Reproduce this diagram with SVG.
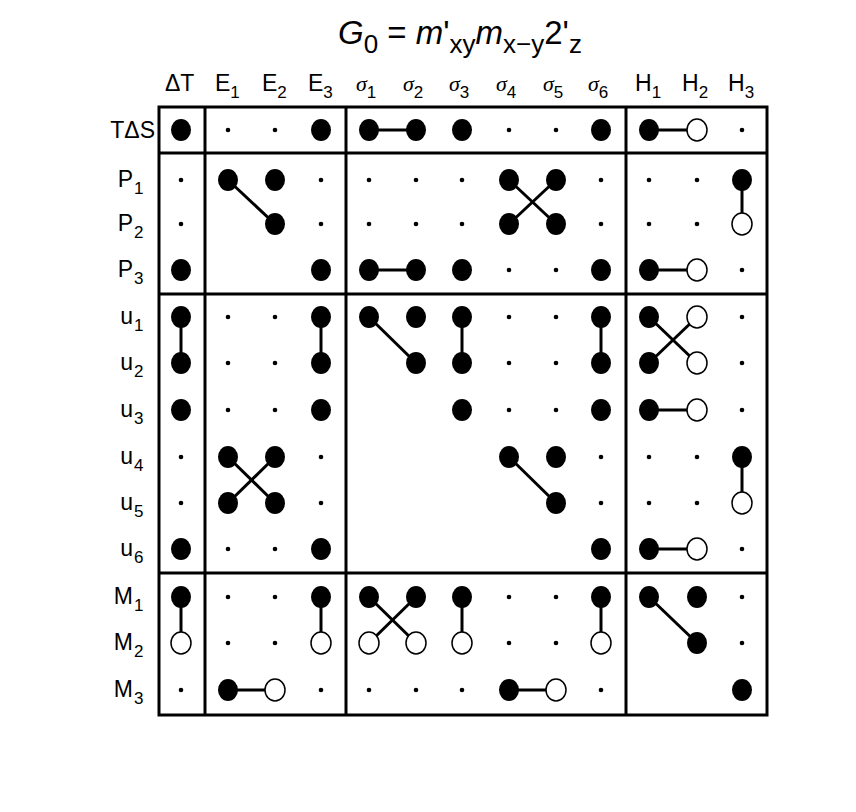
<svg xmlns="http://www.w3.org/2000/svg" width="856" height="812" viewBox="0 0 856 812">
<style>
text{font-family:"Liberation Sans",Arial,sans-serif;font-size:23px;fill:#000}
.s{font-size:17px}
.g{font-family:"Liberation Serif",serif;font-style:italic;font-size:22px}
.f{fill:#000}
.o{fill:#fff;stroke:#000;stroke-width:1.5}
.c line{stroke:#000;stroke-width:3}
.b{fill:none;stroke:#000;stroke-width:3}
</style>
<rect width="856" height="812" fill="#fff"/>
<g id="title"><text x="338" y="44" style="font-size:33px"><tspan font-style="italic">G</tspan><tspan dy="9" style="font-size:26px">0</tspan><tspan dy="-9"> = </tspan><tspan font-style="italic">m</tspan><tspan>'</tspan><tspan dy="9" style="font-size:26px">xy</tspan><tspan dy="-9" font-style="italic">m</tspan><tspan dy="9" style="font-size:26px">x−y</tspan><tspan dy="-9">2'</tspan><tspan dy="9" style="font-size:26px">z</tspan></text></g>
<g id="colheads">
<text x="165" y="91">ΔT</text>
<text x="215" y="91">E<tspan class="s" dy="7">1</tspan></text>
<text x="262" y="91">E<tspan class="s" dy="7">2</tspan></text>
<text x="308" y="91">E<tspan class="s" dy="7">3</tspan></text>
<text x="356" y="91" class="g">σ<tspan style="font-family:'Liberation Sans';font-style:normal;font-size:17px" dy="7">1</tspan></text>
<text x="403" y="91" class="g">σ<tspan style="font-family:'Liberation Sans';font-style:normal;font-size:17px" dy="7">2</tspan></text>
<text x="449" y="91" class="g">σ<tspan style="font-family:'Liberation Sans';font-style:normal;font-size:17px" dy="7">3</tspan></text>
<text x="496" y="91" class="g">σ<tspan style="font-family:'Liberation Sans';font-style:normal;font-size:17px" dy="7">4</tspan></text>
<text x="543" y="91" class="g">σ<tspan style="font-family:'Liberation Sans';font-style:normal;font-size:17px" dy="7">5</tspan></text>
<text x="588" y="91" class="g">σ<tspan style="font-family:'Liberation Sans';font-style:normal;font-size:17px" dy="7">6</tspan></text>
<text x="635" y="91">H<tspan class="s" dy="7">1</tspan></text>
<text x="682" y="91">H<tspan class="s" dy="7">2</tspan></text>
<text x="728" y="91">H<tspan class="s" dy="7">3</tspan></text>
</g>
<g id="rowheads" text-anchor="end">
<text x="155" y="138">TΔS</text>
<text x="133" y="187">P</text><text class="s" x="134" y="194" text-anchor="start">1</text>
<text x="133" y="231">P</text><text class="s" x="134" y="238" text-anchor="start">2</text>
<text x="133" y="277">P</text><text class="s" x="134" y="284" text-anchor="start">3</text>
<text x="133" y="324">u</text><text class="s" x="134" y="331" text-anchor="start">1</text>
<text x="133" y="370">u</text><text class="s" x="134" y="377" text-anchor="start">2</text>
<text x="133" y="417">u</text><text class="s" x="134" y="424" text-anchor="start">3</text>
<text x="133" y="464">u</text><text class="s" x="134" y="471" text-anchor="start">4</text>
<text x="133" y="510">u</text><text class="s" x="134" y="517" text-anchor="start">5</text>
<text x="133" y="556">u</text><text class="s" x="134" y="563" text-anchor="start">6</text>
<text x="133" y="604">M</text><text class="s" x="134" y="611" text-anchor="start">1</text>
<text x="133" y="650">M</text><text class="s" x="134" y="657" text-anchor="start">2</text>
<text x="133" y="697">M</text><text class="s" x="134" y="704" text-anchor="start">3</text>
</g>
<g id="frame" class="b">
<rect x="159" y="107" width="608" height="608"/>
<line x1="205" y1="107" x2="205" y2="715"/>
<line x1="346" y1="107" x2="346" y2="715"/>
<line x1="626" y1="107" x2="626" y2="715"/>
<line x1="159" y1="153" x2="767" y2="153"/>
<line x1="159" y1="294" x2="767" y2="294"/>
<line x1="159" y1="573" x2="767" y2="573"/>
</g>
<g id="connectors" class="c">
<line x1="369" y1="130" x2="416" y2="130"/><line x1="649" y1="130" x2="697" y2="130"/>
<line x1="228" y1="180" x2="275" y2="224"/>
<line x1="509" y1="180" x2="556" y2="224"/><line x1="556" y1="180" x2="509" y2="224"/>
<line x1="742" y1="180" x2="742" y2="224"/>
<line x1="369" y1="270" x2="416" y2="270"/><line x1="649" y1="270" x2="697" y2="270"/>
<line x1="181" y1="317" x2="181" y2="363"/><line x1="321" y1="317" x2="321" y2="363"/>
<line x1="369" y1="317" x2="416" y2="363"/><line x1="462" y1="317" x2="462" y2="363"/>
<line x1="601" y1="317" x2="601" y2="363"/>
<line x1="649" y1="317" x2="697" y2="363"/><line x1="697" y1="317" x2="649" y2="363"/>
<line x1="649" y1="410" x2="697" y2="410"/>
<line x1="228" y1="457" x2="275" y2="503"/><line x1="275" y1="457" x2="228" y2="503"/>
<line x1="509" y1="457" x2="556" y2="503"/><line x1="742" y1="457" x2="742" y2="503"/>
<line x1="649" y1="549" x2="697" y2="549"/>
<line x1="181" y1="597" x2="181" y2="643"/><line x1="321" y1="597" x2="321" y2="643"/>
<line x1="369" y1="597" x2="416" y2="643"/><line x1="416" y1="597" x2="369" y2="643"/>
<line x1="462" y1="597" x2="462" y2="643"/><line x1="601" y1="597" x2="601" y2="643"/>
<line x1="649" y1="597" x2="697" y2="643"/>
<line x1="228" y1="690" x2="275" y2="690"/><line x1="509" y1="690" x2="556" y2="690"/>
</g>
<g id="cells">
<g id="r0">
<ellipse class="f" cx="181" cy="130" rx="10" ry="11"/><circle cx="228" cy="130" r="2.3"/><circle cx="275" cy="130" r="2.3"/><ellipse class="f" cx="321" cy="130" rx="10" ry="11"/><ellipse class="f" cx="369" cy="130" rx="10" ry="11"/><ellipse class="f" cx="416" cy="130" rx="10" ry="11"/><ellipse class="f" cx="462" cy="130" rx="10" ry="11"/><circle cx="509" cy="130" r="2.3"/><circle cx="556" cy="130" r="2.3"/><ellipse class="f" cx="601" cy="130" rx="10" ry="11"/><ellipse class="f" cx="649" cy="130" rx="10" ry="11"/><ellipse class="o" cx="697" cy="130" rx="10" ry="11"/><circle cx="742" cy="130" r="2.3"/>
</g>
<g id="r1">
<circle cx="181" cy="180" r="2.3"/><ellipse class="f" cx="228" cy="180" rx="10" ry="11"/><ellipse class="f" cx="275" cy="180" rx="10" ry="11"/><circle cx="321" cy="180" r="2.3"/><circle cx="369" cy="180" r="2.3"/><circle cx="416" cy="180" r="2.3"/><circle cx="462" cy="180" r="2.3"/><ellipse class="f" cx="509" cy="180" rx="10" ry="11"/><ellipse class="f" cx="556" cy="180" rx="10" ry="11"/><circle cx="601" cy="180" r="2.3"/><circle cx="649" cy="180" r="2.3"/><circle cx="697" cy="180" r="2.3"/><ellipse class="f" cx="742" cy="180" rx="10" ry="11"/>
</g>
<g id="r2">
<circle cx="181" cy="224" r="2.3"/><ellipse class="f" cx="275" cy="224" rx="10" ry="11"/><circle cx="321" cy="224" r="2.3"/><circle cx="369" cy="224" r="2.3"/><circle cx="416" cy="224" r="2.3"/><circle cx="462" cy="224" r="2.3"/><ellipse class="f" cx="509" cy="224" rx="10" ry="11"/><ellipse class="f" cx="556" cy="224" rx="10" ry="11"/><circle cx="601" cy="224" r="2.3"/><circle cx="649" cy="224" r="2.3"/><circle cx="697" cy="224" r="2.3"/><ellipse class="o" cx="742" cy="224" rx="10" ry="11"/>
</g>
<g id="r3">
<ellipse class="f" cx="181" cy="270" rx="10" ry="11"/><ellipse class="f" cx="321" cy="270" rx="10" ry="11"/><ellipse class="f" cx="369" cy="270" rx="10" ry="11"/><ellipse class="f" cx="416" cy="270" rx="10" ry="11"/><ellipse class="f" cx="462" cy="270" rx="10" ry="11"/><circle cx="509" cy="270" r="2.3"/><circle cx="556" cy="270" r="2.3"/><ellipse class="f" cx="601" cy="270" rx="10" ry="11"/><ellipse class="f" cx="649" cy="270" rx="10" ry="11"/><ellipse class="o" cx="697" cy="270" rx="10" ry="11"/><circle cx="742" cy="270" r="2.3"/>
</g>
<g id="r4">
<ellipse class="f" cx="181" cy="317" rx="10" ry="11"/><circle cx="228" cy="317" r="2.3"/><circle cx="275" cy="317" r="2.3"/><ellipse class="f" cx="321" cy="317" rx="10" ry="11"/><ellipse class="f" cx="369" cy="317" rx="10" ry="11"/><ellipse class="f" cx="416" cy="317" rx="10" ry="11"/><ellipse class="f" cx="462" cy="317" rx="10" ry="11"/><circle cx="509" cy="317" r="2.3"/><circle cx="556" cy="317" r="2.3"/><ellipse class="f" cx="601" cy="317" rx="10" ry="11"/><ellipse class="f" cx="649" cy="317" rx="10" ry="11"/><ellipse class="o" cx="697" cy="317" rx="10" ry="11"/><circle cx="742" cy="317" r="2.3"/>
</g>
<g id="r5">
<ellipse class="f" cx="181" cy="363" rx="10" ry="11"/><circle cx="228" cy="363" r="2.3"/><circle cx="275" cy="363" r="2.3"/><ellipse class="f" cx="321" cy="363" rx="10" ry="11"/><ellipse class="f" cx="416" cy="363" rx="10" ry="11"/><ellipse class="f" cx="462" cy="363" rx="10" ry="11"/><circle cx="509" cy="363" r="2.3"/><circle cx="556" cy="363" r="2.3"/><ellipse class="f" cx="601" cy="363" rx="10" ry="11"/><ellipse class="f" cx="649" cy="363" rx="10" ry="11"/><ellipse class="o" cx="697" cy="363" rx="10" ry="11"/><circle cx="742" cy="363" r="2.3"/>
</g>
<g id="r6">
<ellipse class="f" cx="181" cy="410" rx="10" ry="11"/><circle cx="228" cy="410" r="2.3"/><circle cx="275" cy="410" r="2.3"/><ellipse class="f" cx="321" cy="410" rx="10" ry="11"/><ellipse class="f" cx="462" cy="410" rx="10" ry="11"/><circle cx="509" cy="410" r="2.3"/><circle cx="556" cy="410" r="2.3"/><ellipse class="f" cx="601" cy="410" rx="10" ry="11"/><ellipse class="f" cx="649" cy="410" rx="10" ry="11"/><ellipse class="o" cx="697" cy="410" rx="10" ry="11"/><circle cx="742" cy="410" r="2.3"/>
</g>
<g id="r7">
<circle cx="181" cy="457" r="2.3"/><ellipse class="f" cx="228" cy="457" rx="10" ry="11"/><ellipse class="f" cx="275" cy="457" rx="10" ry="11"/><circle cx="321" cy="457" r="2.3"/><ellipse class="f" cx="509" cy="457" rx="10" ry="11"/><ellipse class="f" cx="556" cy="457" rx="10" ry="11"/><circle cx="601" cy="457" r="2.3"/><circle cx="649" cy="457" r="2.3"/><circle cx="697" cy="457" r="2.3"/><ellipse class="f" cx="742" cy="457" rx="10" ry="11"/>
</g>
<g id="r8">
<circle cx="181" cy="503" r="2.3"/><ellipse class="f" cx="228" cy="503" rx="10" ry="11"/><ellipse class="f" cx="275" cy="503" rx="10" ry="11"/><circle cx="321" cy="503" r="2.3"/><ellipse class="f" cx="556" cy="503" rx="10" ry="11"/><circle cx="601" cy="503" r="2.3"/><circle cx="649" cy="503" r="2.3"/><circle cx="697" cy="503" r="2.3"/><ellipse class="o" cx="742" cy="503" rx="10" ry="11"/>
</g>
<g id="r9">
<ellipse class="f" cx="181" cy="549" rx="10" ry="11"/><circle cx="228" cy="549" r="2.3"/><circle cx="275" cy="549" r="2.3"/><ellipse class="f" cx="321" cy="549" rx="10" ry="11"/><ellipse class="f" cx="601" cy="549" rx="10" ry="11"/><ellipse class="f" cx="649" cy="549" rx="10" ry="11"/><ellipse class="o" cx="697" cy="549" rx="10" ry="11"/><circle cx="742" cy="549" r="2.3"/>
</g>
<g id="r10">
<ellipse class="f" cx="181" cy="597" rx="10" ry="11"/><circle cx="228" cy="597" r="2.3"/><circle cx="275" cy="597" r="2.3"/><ellipse class="f" cx="321" cy="597" rx="10" ry="11"/><ellipse class="f" cx="369" cy="597" rx="10" ry="11"/><ellipse class="f" cx="416" cy="597" rx="10" ry="11"/><ellipse class="f" cx="462" cy="597" rx="10" ry="11"/><circle cx="509" cy="597" r="2.3"/><circle cx="556" cy="597" r="2.3"/><ellipse class="f" cx="601" cy="597" rx="10" ry="11"/><ellipse class="f" cx="649" cy="597" rx="10" ry="11"/><ellipse class="f" cx="697" cy="597" rx="10" ry="11"/><circle cx="742" cy="597" r="2.3"/>
</g>
<g id="r11">
<ellipse class="o" cx="181" cy="643" rx="10" ry="11"/><circle cx="228" cy="643" r="2.3"/><circle cx="275" cy="643" r="2.3"/><ellipse class="o" cx="321" cy="643" rx="10" ry="11"/><ellipse class="o" cx="369" cy="643" rx="10" ry="11"/><ellipse class="o" cx="416" cy="643" rx="10" ry="11"/><ellipse class="o" cx="462" cy="643" rx="10" ry="11"/><circle cx="509" cy="643" r="2.3"/><circle cx="556" cy="643" r="2.3"/><ellipse class="o" cx="601" cy="643" rx="10" ry="11"/><ellipse class="f" cx="697" cy="643" rx="10" ry="11"/><circle cx="742" cy="643" r="2.3"/>
</g>
<g id="r12">
<circle cx="181" cy="690" r="2.3"/><ellipse class="f" cx="228" cy="690" rx="10" ry="11"/><ellipse class="o" cx="275" cy="690" rx="10" ry="11"/><circle cx="321" cy="690" r="2.3"/><circle cx="369" cy="690" r="2.3"/><circle cx="416" cy="690" r="2.3"/><circle cx="462" cy="690" r="2.3"/><ellipse class="f" cx="509" cy="690" rx="10" ry="11"/><ellipse class="o" cx="556" cy="690" rx="10" ry="11"/><circle cx="601" cy="690" r="2.3"/><ellipse class="f" cx="742" cy="690" rx="10" ry="11"/>
</g>
</g>
</svg>
